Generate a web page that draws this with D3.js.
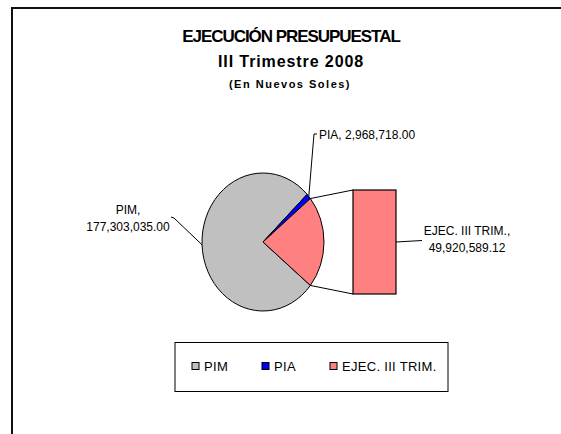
<!DOCTYPE html>
<html>
<head>
<meta charset="utf-8">
<script src="https://cdn.jsdelivr.net/npm/d3@7"></script>
<style>
  html, body { margin: 0; padding: 0; background: #fff; }
  svg { display: block; }
  text { font-family: "Liberation Sans", Arial, sans-serif; fill: #000; }
</style>
</head>
<body>
<svg id="chart" width="561" height="434"></svg>
<script>
// ---- data ----
const categories = ["PIM", "PIA", "EJEC. III TRIM."];
const values = [177303035.00, 2968718.00, 49920589.12];
const valueLabels = ["177,303,035.00", "2,968,718.00", "49,920,589.12"];
const colors = ["#C0C0C0", "#0000FF", "#FF8080"];
const titleLines = ["EJECUCIÓN PRESUPUESTAL", "III Trimestre 2008", "(En Nuevos Soles)"];
const barIndex = 2; // series shown in the secondary bar

// ---- layout ----
const svg = d3.select("#chart");
const cx = 263, cy = 242, rx = 61, ry = 69;
const sy = ry / rx;

// frame
svg.append("rect")
  .attr("x", 12).attr("y", 8).attr("width", 600).attr("height", 500)
  .attr("fill", "none").attr("stroke", "#111").attr("stroke-width", 2);

// titles
svg.append("text").attr("x", 291).attr("y", 41.5).attr("text-anchor", "middle")
  .style("font-size", "17px").style("font-weight", "bold").style("letter-spacing", "-1.05px")
  .text(titleLines[0]);
svg.append("text").attr("x", 291).attr("y", 67).attr("text-anchor", "middle")
  .style("font-size", "16px").style("font-weight", "bold").style("letter-spacing", "0.9px")
  .text(titleLines[1]);
svg.append("text").attr("x", 290).attr("y", 87.5).attr("text-anchor", "middle")
  .style("font-size", "11px").style("font-weight", "bold").style("letter-spacing", "1.5px")
  .text(titleLines[2]);

// pie
const total = d3.sum(values);
const f = values[barIndex] / total;
const start = Math.PI / 2 + f * Math.PI;
const pie = d3.pie().sort(null).value(d => d).startAngle(start).endAngle(start + 2 * Math.PI);
const arcs = pie(values);
const arc = d3.arc().innerRadius(0).outerRadius(rx);

const g = svg.append("g").attr("transform", `translate(${cx},${cy}) scale(1,${sy})`);
g.selectAll("path").data(arcs).enter().append("path")
  .attr("d", arc)
  .attr("fill", (d, i) => colors[i])
  .attr("stroke", "#000").attr("stroke-width", 1)
  .attr("vector-effect", "non-scaling-stroke");

function rim(a) {
  return [cx + rx * Math.sin(a), cy - ry * Math.cos(a)];
}

// secondary bar
const barX0 = 353, barX1 = 396;
const y = d3.scaleLinear().domain([0, values[barIndex]]).range([294, 190]);
svg.append("rect")
  .attr("x", barX0).attr("y", y(values[barIndex]))
  .attr("width", barX1 - barX0).attr("height", y(0) - y(values[barIndex]))
  .attr("fill", colors[barIndex]).attr("stroke", "#000").attr("stroke-width", 1.2);

// connectors
const ej = arcs[barIndex];
const p1 = rim(ej.startAngle), p2 = rim(ej.endAngle);
const line = d3.line();
svg.append("path").attr("d", line([p1, [barX0, y(values[barIndex])]]))
  .attr("stroke", "#000").attr("fill", "none").attr("stroke-width", 1);
svg.append("path").attr("d", line([p2, [barX0, y(0)]]))
  .attr("stroke", "#000").attr("fill", "none").attr("stroke-width", 1);

// data labels
const lblSize = "12px";
// PIA
const piaMid = (arcs[1].startAngle + arcs[1].endAngle) / 2;
svg.append("path").attr("d", line([rim(piaMid), [314, 134], [317, 134]]))
  .attr("stroke", "#000").attr("fill", "none").attr("stroke-width", 1);
svg.append("text").attr("x", 319).attr("y", 138.5).style("font-size", lblSize)
  .text(categories[1] + ", " + valueLabels[1]);
// PIM
const pimMid = (arcs[0].startAngle + arcs[0].endAngle) / 2;
svg.append("path").attr("d", line([rim(pimMid), [174, 218], [171, 217]]))
  .attr("stroke", "#000").attr("fill", "none").attr("stroke-width", 1);
svg.append("text").attr("x", 128).attr("y", 213.5).attr("text-anchor", "middle").style("font-size", lblSize)
  .text(categories[0] + ",");
svg.append("text").attr("x", 128).attr("y", 230.5).attr("text-anchor", "middle").style("font-size", lblSize)
  .text(valueLabels[0]);
// EJEC
svg.append("path").attr("d", line([[barX1, y(values[barIndex] / 2)], [422, 240.5]]))
  .attr("stroke", "#000").attr("fill", "none").attr("stroke-width", 1);
svg.append("text").attr("x", 467).attr("y", 234.5).attr("text-anchor", "middle").style("font-size", lblSize)
  .text(categories[2] + ",");
svg.append("text").attr("x", 467).attr("y", 251.5).attr("text-anchor", "middle").style("font-size", lblSize)
  .text(valueLabels[2]);

// legend
svg.append("rect").attr("x", 175).attr("y", 342.5).attr("width", 273).attr("height", 49)
  .attr("fill", "#fff").attr("stroke", "#000").attr("stroke-width", 1);
const legX = [192, 262, 330];
const leg = svg.selectAll("g.leg").data(categories).enter().append("g").attr("class", "leg")
  .attr("transform", (d, i) => `translate(${legX[i]},0)`);
leg.append("rect").attr("x", 0).attr("y", 362.5).attr("width", 7).attr("height", 7)
  .attr("fill", (d, i) => colors[i]).attr("stroke", "#000").attr("stroke-width", 1);
leg.append("text").attr("x", 12).attr("y", 370.5).style("font-size", "13px").style("letter-spacing", "0.3px")
  .text(d => d);
</script>
</body>
</html>
